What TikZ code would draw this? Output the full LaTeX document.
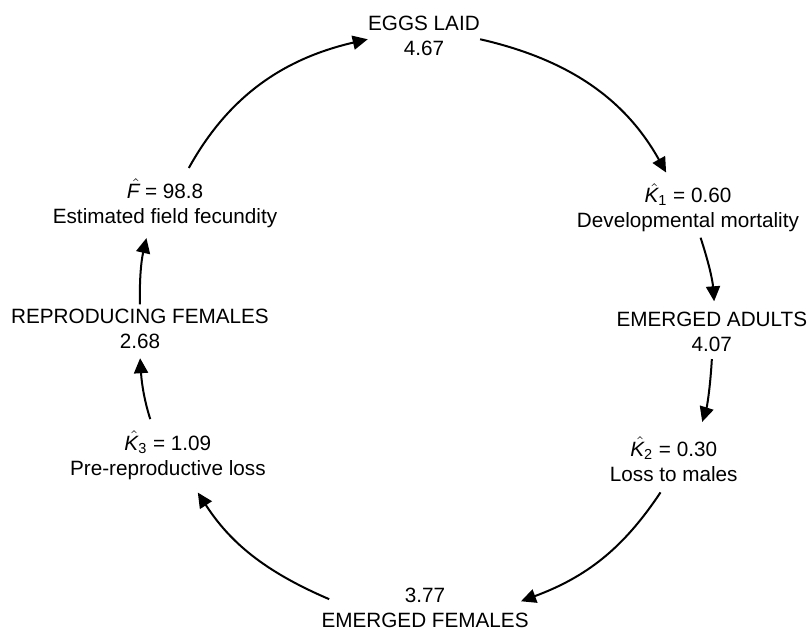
\documentclass[tikz,border=0pt]{standalone}
\usepackage{fontspec}
\setmainfont{Liberation Sans}
\usetikzlibrary{arrows.meta}

\newcommand{\est}[1]{$\skew{5}{\hat}{\mbox{\itshape #1}}$}

\tikzset{
	stage/.style={align=center, inner sep=0pt,
		font=\fontsize{10.35}{12.5}\selectfont,
		execute at begin node=\strut, execute at end node=\strut},
	flow/.style={line width=1pt, -{Triangle[length=7.5pt,width=7pt]}}
}

\begin{document}
\begin{tikzpicture}
		\useasboundingbox (0, 0) rectangle (14.27, 11.07);

		% life-table stages and the losses between them
		\node [stage] (eggs) at (7.45, 10.38) {EGGS LAID\\4.67};
		\node [stage] (k1) at (12.09, 7.39) {\est{K}\textsubscript{1} = 0.60\\Developmental mortality};
		\node [stage] (adults) at (12.51, 5.18) {EMERGED ADULTS\\4.07};
		\node [stage] (k2) at (11.84, 2.94) {\est{K}\textsubscript{2} = 0.30\\Loss to males};
		\node [stage] (females) at (7.47, 0.33) {3.77\\EMERGED FEMALES};
		\node [stage] (k3) at (2.95, 3.04) {\est{K}\textsubscript{3} = 1.09\\Pre-reproductive loss};
		\node [stage] (repro) at (2.46, 5.23) {REPRODUCING FEMALES\\2.68};
		\node [stage] (fec) at (2.90, 7.47) {\est{F} = 98.8\\Estimated field fecundity};

		% the cycle, clockwise
		\draw [flow, shorten >=6pt] (eggs.east) to [bend left=24] ([xshift=-8pt]k1.north);
		\draw [flow, shorten <=1pt, shorten >=5pt] ([xshift=6pt]k1.south) to [bend left=7] ([xshift=1.5pt]adults.north);
		\draw [flow, shorten >=7.5pt] (adults.south) to [bend left=7] ([xshift=12pt]k2.north);
		\draw [flow, shorten <=2pt] ([xshift=-5.5pt]k2.south) to [bend left=18] ([xshift=-4pt, yshift=-7pt]females.north east);
		\draw [flow, shorten >=5.5pt] ([xshift=4pt, yshift=6pt]females.west) to [bend left=17] ([xshift=12pt]k3.south);
		\draw [flow, shorten <=6pt, shorten >=1pt] ([xshift=-7pt]k3.north) to [bend left=7] (repro.south);
		\draw [flow, shorten <=2pt, shorten >=3.5pt] (repro.north) to [bend left=7] ([xshift=-8.5pt]fec.south);
		\draw [flow, shorten <=6pt] ([xshift=9pt]fec.north) to [bend left=24] (eggs.west);

\end{tikzpicture}
\end{document}
